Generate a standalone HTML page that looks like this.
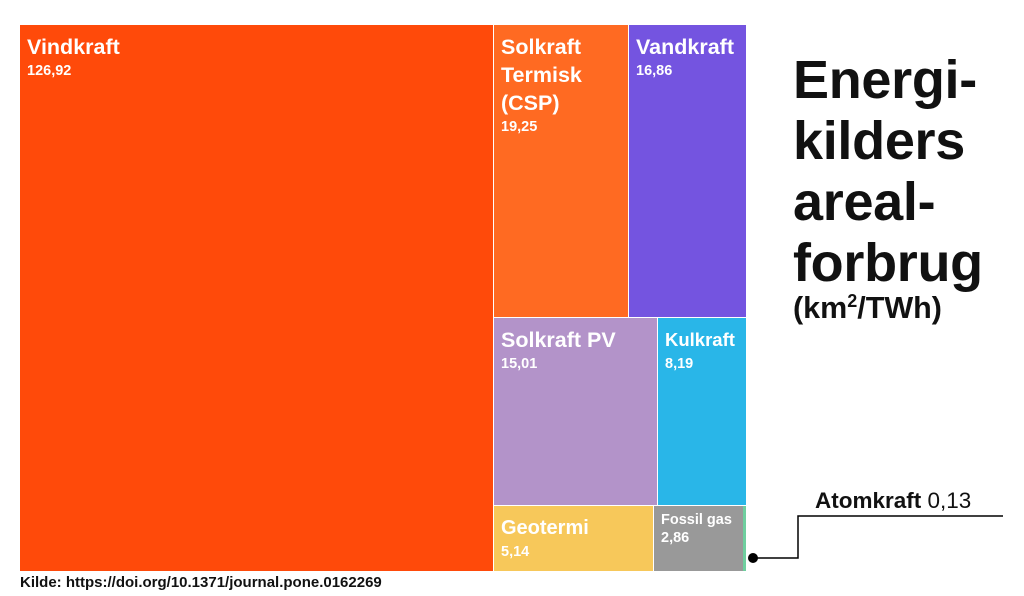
<!DOCTYPE html>
<html><head><meta charset="utf-8"><style>
body{margin:0;width:1024px;height:596px;background:#fff;position:relative;overflow:hidden;font-family:"Liberation Sans",sans-serif;font-weight:bold}
.b{position:absolute;box-sizing:border-box;color:#fff;padding:8px 7px}
.n{font-size:21.5px;line-height:28px}
.v{font-size:14.5px;margin-top:2px}
.t{position:absolute;left:793px;top:50px;font-size:54px;line-height:61px;color:#111;letter-spacing:-0.3px}
</style></head><body>
<div class="b" style="left:20px;top:25px;width:473px;height:546px;background:#ff4a0a"><div class="n">Vindkraft</div><div class="v">126,92</div></div>
<div class="b" style="left:494px;top:25px;width:134px;height:292px;background:#ff6a22"><div class="n">Solkraft<br>Termisk<br>(CSP)</div><div class="v">19,25</div></div>
<div class="b" style="left:629px;top:25px;width:117px;height:292px;background:#7454e0"><div class="n">Vandkraft</div><div class="v">16,86</div></div>
<div class="b" style="left:494px;top:318px;width:163px;height:187px;background:#b393c9"><div class="n">Solkraft PV</div><div class="v">15,01</div></div>
<div class="b" style="left:658px;top:318px;width:88px;height:187px;background:#29b6e8"><div class="n" style="font-size:18.5px">Kulkraft</div><div class="v">8,19</div></div>
<div class="b" style="left:494px;top:506px;width:159px;height:65px;background:#f7c85a"><div class="n" style="font-size:20px">Geotermi</div><div class="v">5,14</div></div>
<div class="b" style="left:654px;top:506px;width:89px;height:65px;background:#999;padding:6px 7px"><div style="font-size:14.5px">Fossil gas</div><div class="v">2,86</div></div>
<div class="b" style="left:743px;top:506px;width:3px;height:65px;background:#6fcf9f;padding:0"></div>
<svg style="position:absolute;left:0;top:0" width="1024" height="596">
<circle cx="753" cy="558" r="5" fill="#000"/>
<polyline points="753,558 798,558 798,516 1003,516" fill="none" stroke="#000" stroke-width="1.5"/>
</svg>
<div style="position:absolute;left:815px;top:488px;font-size:22.5px;color:#111">Atomkraft <span style="font-weight:normal">0,13</span></div>
<div class="t">Energi-<br>kilders<br>areal-<br>forbrug</div>
<div style="position:absolute;left:793px;top:291px;font-size:30.5px;color:#111">(km<sup style="font-size:18px">2</sup>/TWh)</div>
<div style="position:absolute;left:20px;top:574px;font-size:15px;color:#111">Kilde: https://doi.org/10.1371/journal.pone.0162269</div>
</body></html>
